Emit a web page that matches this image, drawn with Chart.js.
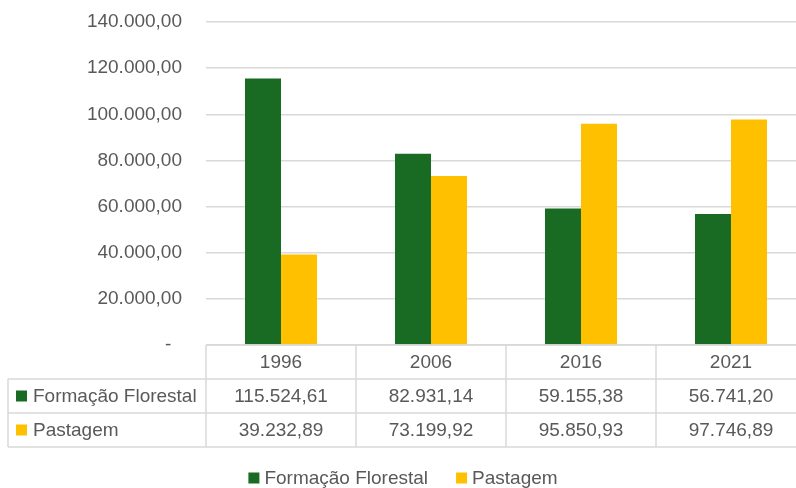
<!DOCTYPE html>
<html><head><meta charset="utf-8">
<script src="https://cdn.jsdelivr.net/npm/chart.js@4.4.1/dist/chart.umd.min.js"></script>
<style>
html,body{margin:0;padding:0;background:#fff;overflow:hidden;width:796px;height:488px}
#wrap{width:806px;height:488px;position:relative}
canvas{display:block}
</style>
</head><body><div id="wrap"><canvas id="c" width="806" height="488"></canvas></div>
<script>
const categories = ['1996', '2006', '2016', '2021'];
const seriesNames = ['Formação Florestal', 'Pastagem'];
const florestal = [115524.61, 82931.14, 59155.38, 56741.20];
const pastagem = [39232.89, 73199.92, 95850.93, 97746.89];
const yTickValues = [0, 20000, 40000, 60000, 80000, 100000, 120000, 140000];
const colors = ['#196b24', '#ffc000'];

const FONT = '"Liberation Sans", Arial, sans-serif';
const TEXT = '#595959';
const LINE = '#d9d9d9';

function fmt(v) {
  if (v === 0) return '-  ';
  const parts = v.toFixed(2).split('.');
  return parts[0].replace(/\B(?=(\d{3})+(?!\d))/g, '.') + ',' + parts[1];
}

const tablePlugin = {
  id: 'dataTable',
  afterDraw(chart) {
    const ctx = chart.ctx;
    const xs = chart.scales.x;
    const area = chart.chartArea;
    const n = categories.length;
    const colW = (area.right - area.left) / n;
    const rowH = 34;
    const top = area.bottom;
    const leftX = 8;
    ctx.save();
    ctx.strokeStyle = LINE;
    ctx.lineWidth = 1.5;
    ctx.beginPath();
    ctx.moveTo(area.left, top); ctx.lineTo(area.right, top);
    for (let r = 1; r <= 3; r++) {
      ctx.moveTo(leftX, top + r * rowH); ctx.lineTo(area.right, top + r * rowH);
    }
    for (let i = 0; i <= n; i++) {
      const x = area.left + i * colW;
      ctx.moveTo(x, top); ctx.lineTo(x, top + 3 * rowH);
    }
    ctx.moveTo(leftX, top + rowH); ctx.lineTo(leftX, top + 3 * rowH);
    ctx.stroke();

    ctx.font = '19px ' + FONT;
    ctx.fillStyle = TEXT;
    ctx.textBaseline = 'middle';
    ctx.textAlign = 'center';
    const series = [florestal, pastagem];
    for (let i = 0; i < n; i++) {
      const cx = xs.getPixelForValue(i);
      ctx.fillText(categories[i], cx, top + rowH / 2 + 1);
      for (let s = 0; s < series.length; s++) {
        ctx.fillText(fmt(series[s][i]), cx, top + rowH * (s + 1.5) + 1);
      }
    }
    ctx.textAlign = 'left';
    for (let s = 0; s < seriesNames.length; s++) {
      const cy = top + rowH * (s + 1.5);
      ctx.fillStyle = colors[s];
      ctx.fillRect(16, cy - 5.5, 11, 11);
      ctx.fillStyle = TEXT;
      ctx.fillText(seriesNames[s], 33, cy + 1);
    }

    const ly = 478;
    const w0 = ctx.measureText(seriesNames[0]).width;
    const w1 = ctx.measureText(seriesNames[1]).width;
    const box = 11, gapBT = 5, gapItems = 28;
    const total = box + gapBT + w0 + gapItems + box + gapBT + w1;
    let lx = 403 - total / 2;
    ctx.fillStyle = colors[0];
    ctx.fillRect(lx, ly - 5.5, box, box);
    ctx.fillStyle = TEXT;
    ctx.fillText(seriesNames[0], lx + box + gapBT, ly + 1);
    lx += box + gapBT + w0 + gapItems;
    ctx.fillStyle = colors[1];
    ctx.fillRect(lx, ly - 5.5, box, box);
    ctx.fillStyle = TEXT;
    ctx.fillText(seriesNames[1], lx + box + gapBT, ly + 1);
    ctx.restore();
  }
};

new Chart(document.getElementById('c'), {
  type: 'bar',
  data: {
    labels: categories,
    datasets: [
      { label: seriesNames[0], data: florestal, backgroundColor: colors[0], categoryPercentage: 0.48, barPercentage: 1.0 },
      { label: seriesNames[1], data: pastagem, backgroundColor: colors[1], categoryPercentage: 0.48, barPercentage: 1.0 }
    ]
  },
  options: {
    responsive: false,
    animation: false,
    devicePixelRatio: 1,
    layout: { padding: { top: 22, bottom: 41, left: 0, right: 0 } },
    plugins: { legend: { display: false }, tooltip: { enabled: false } },
    scales: {
      x: {
        display: true,
        ticks: { display: false },
        grid: { display: false },
        border: { display: false },
        afterFit(scale) { scale.height = 102; scale.paddingLeft = 0; scale.paddingRight = 0; }
      },
      y: {
        min: 0, max: 140000,
        afterBuildTicks(scale) { scale.ticks = yTickValues.map(v => ({ value: v })); },
        ticks: {
          padding: 24,
          color: TEXT,
          font: { family: FONT, size: 19 },
          callback: (v) => fmt(v)
        },
        grid: { color: LINE, lineWidth: 1.5, drawTicks: false },
        border: { display: false },
        afterFit(scale) { scale.width = 206; scale.paddingTop = 0; scale.paddingBottom = 0; }
      }
    }
  },
  plugins: [tablePlugin]
});
</script>
</body></html>
